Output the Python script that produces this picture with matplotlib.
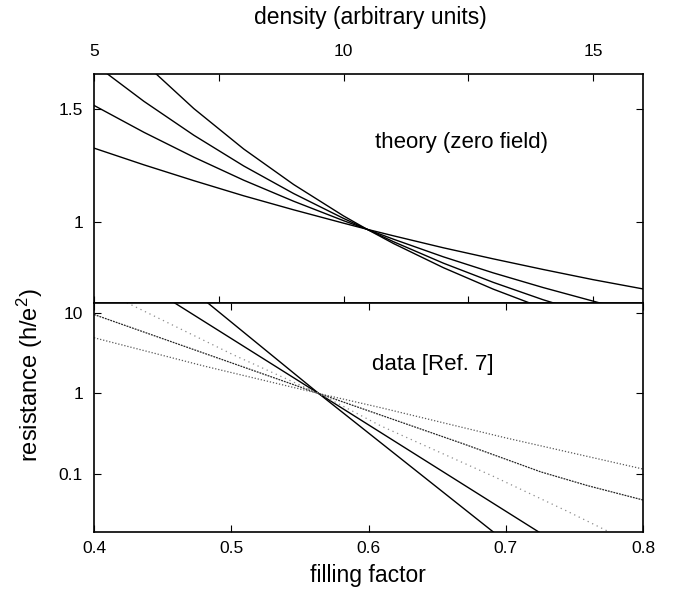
import numpy as np
import matplotlib.pyplot as plt
import matplotlib as mpl
from matplotlib.ticker import FixedLocator, NullLocator, FixedFormatter

mpl.rcParams['font.family'] = ['Liberation Sans', 'DejaVu Sans']
mpl.rcParams['mathtext.fontset'] = 'custom'
mpl.rcParams['mathtext.rm'] = 'Liberation Sans'
mpl.rcParams['mathtext.it'] = 'Liberation Sans'

# top panel: theory (zero field), x = density, y = resistance
dens_a = [5, 6, 7, 8, 9, 10, 10.47, 11, 12, 13, 14, 15, 16]
res_a = [1.327, 1.253, 1.183, 1.116, 1.054, 0.995, 0.968, 0.939, 0.886, 0.837, 0.790, 0.745, 0.704]
dens_b = [5, 6, 7, 8, 9, 10, 10.47, 11, 12, 13, 14, 15, 15.2]
res_b = [1.516, 1.397, 1.287, 1.185, 1.092, 1.006, 0.968, 0.924, 0.846, 0.775, 0.710, 0.650, 0.638]
dens_c = [5, 6, 7, 8, 9, 10, 10.47, 11, 12, 13, 14, 15]
res_c = [1.700, 1.534, 1.384, 1.248, 1.126, 1.016, 0.968, 0.913, 0.818, 0.733, 0.656, 0.588]
dens_d = [6, 7, 8, 9, 10, 10.47, 11, 12, 13, 14]
res_d = [1.705, 1.502, 1.323, 1.166, 1.027, 0.968, 0.905, 0.798, 0.703, 0.619]

# bottom panel: data [Ref. 7], x = filling factor, y = resistance (log)
nu_s1 = [0.480, 0.5637, 0.695]
r_s1 = [14.5, 1.0, 0.0170]
nu_s2 = [0.455, 0.5637, 0.728]
r_s2 = [14.5, 1.0, 0.0175]
nu_d1 = [0.4, 0.48, 0.5637, 0.6088, 0.70, 0.8]
r_d1 = [4.9, 2.19, 1.0, 0.668, 0.282, 0.116]
nu_d2 = [0.4, 0.48, 0.5637, 0.6088, 0.67, 0.7255, 0.76, 0.8]
r_d2 = [9.5, 3.16, 1.0, 0.541, 0.235, 0.107, 0.072, 0.048]
nu_d3 = [0.424, 0.5015, 0.5637, 0.6088, 0.6915, 0.745, 0.776]
r_d3 = [13.3, 3.01, 1.0, 0.398, 0.0933, 0.0347, 0.0191]

fig = plt.figure(figsize=(6.73, 5.91), dpi=100)
ax1 = fig.add_axes([0.1397, 0.4878, 0.8157, 0.3870])
ax2 = fig.add_axes([0.1397, 0.0993, 0.8157, 0.3885])

for xs, ys in [(dens_a, res_a), (dens_b, res_b), (dens_c, res_c), (dens_d, res_d)]:
    ax1.plot(xs, ys, color='k', lw=1.0)
ax1.set_xlim(5, 16)
ax1.set_ylim(0.643, 1.655)
ax1.xaxis.set_major_locator(FixedLocator([5, 7.5, 10, 12.5, 15]))
ax1.xaxis.set_major_formatter(FixedFormatter(['5', '', '10', '', '15']))
ax1.yaxis.set_major_locator(FixedLocator([1, 1.5]))
ax1.yaxis.set_major_formatter(FixedFormatter(['1', '1.5']))
ax1.tick_params(axis='x', direction='in', top=True, bottom=True,
                labeltop=True, labelbottom=False, length=5, labelsize=12.5, pad=11)
ax1.tick_params(axis='y', direction='in', left=True, right=True,
                length=5, labelsize=12.5, pad=8)
ax1.text(12.36, 1.35, 'theory (zero field)', fontsize=16, ha='center', va='center')

ax2.plot(nu_s1, r_s1, color='k', lw=1.0)
ax2.plot(nu_s2, r_s2, color='k', lw=1.0)
ax2.plot(nu_d1, r_d1, color='0.35', lw=0.9, linestyle=(0, (1, 1.5)))
ax2.plot(nu_d2, r_d2, color='0.15', lw=0.9, linestyle=(0, (1.5, 0.8)))
ax2.plot(nu_d3, r_d3, color='0.55', lw=0.9, linestyle=(0, (1, 3)))
ax2.set_yscale('log')
ax2.set_xlim(0.4, 0.8)
ax2.set_ylim(0.0191, 13.3)
ax2.xaxis.set_major_locator(FixedLocator([0.4, 0.5, 0.6, 0.7, 0.8]))
ax2.xaxis.set_major_formatter(FixedFormatter(['0.4', '0.5', '0.6', '0.7', '0.8']))
ax2.yaxis.set_major_locator(FixedLocator([0.1, 1, 10]))
ax2.yaxis.set_major_formatter(FixedFormatter(['0.1', '1', '10']))
ax2.yaxis.set_minor_locator(NullLocator())
ax2.tick_params(axis='x', direction='in', top=True, bottom=True,
                length=5, labelsize=12.5, pad=6)
ax2.tick_params(axis='y', direction='in', left=True, right=True,
                length=5, labelsize=12.5, pad=8)
ax2.text(0.647, 2.27, 'data [Ref. 7]', fontsize=16, ha='center', va='center')

for ax in (ax1, ax2):
    for sp in ax.spines.values():
        sp.set_linewidth(1.2)

fig.text(0.55, 0.971, 'density (arbitrary units)', fontsize=16.5, ha='center', va='center')
fig.text(0.547, 0.0254, 'filling factor', fontsize=16.5, ha='center', va='center')
fig.text(0.045, 0.365, 'resistance (h/e$^2$)', fontsize=17, rotation=90,
         ha='center', va='center')

fig.savefig('out.png', dpi=100)
